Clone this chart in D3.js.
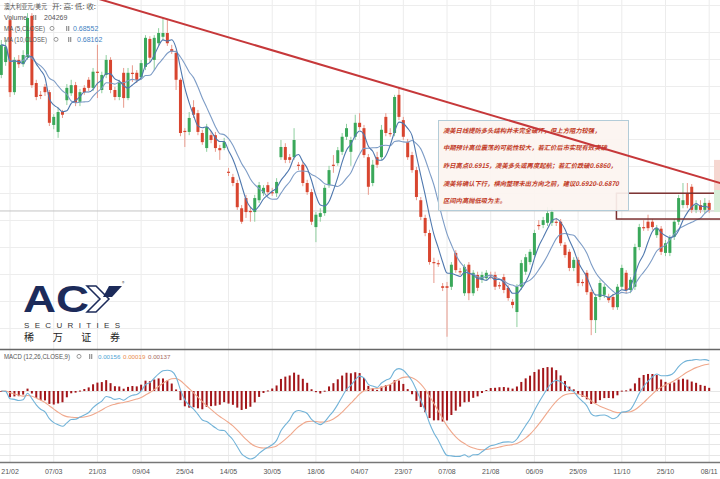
<!DOCTYPE html>
<html>
<head>
<meta charset="utf-8">
<script src="https://cdn.jsdelivr.net/npm/d3@7"></script>
<style>
  body { margin: 0; background: #fff; }
  svg { display: block; }
</style>
</head>
<body>
<div id="chart"></div>
<script>
// ---- data (AUD/USD daily) ----
const dateLabels = ["21/02","07/03","21/03","09/04","25/04","14/05","30/05","18/06","04/07",
                    "23/07","07/08","21/08","06/09","25/09","11/10","25/10","08/11"];
const labelStart = 2, labelEvery = 10;

const opens = [.7170,.7194,.7272,.7138,.7198,.7190,.7203,.7280,.7155,.7133,
 .7148,.7138,.7077,.7064,.7101,.7123,.7136,.7151,.7120,.7146,
 .7161,.7146,.7176,.7142,.7170,.7198,.7142,.7129,.7174,.7127,
 .7174,.7174,.7166,.7185,.7237,.7198,.7229,.7241,.7248,.7218,
 .7211,.7161,.7066,.7064,.7110,.7099,.7062,.7034,.7058,.7058,
 .7034,.7034,.6990,.6980,.6969,.6922,.6941,.6917,.6915,.6937,
 .6950,.6965,.6952,.6950,.7017,.7036,.7017,.7017,.7003,.7003,
 .6969,.6952,.6887,.6906,.6913,.6965,.7003,.7006,.7027,.7055,
 .7027,.7055,.7081,.7071,.7017,.6969,.7017,.7017,.7092,.7062,
 .7062,.7133,.7086,.7045,.7021,.6993,.6937,.6904,.6876,.6822,
 .6820,.6777,.6777,.6776,.6839,.6805,.6764,.6817,.6764,.6798,
 .6789,.6792,.6798,.6798,.6779,.6794,.6774,.6748,.6729,.6776,
 .6804,.6822,.6835,.6891,.6891,.6895,.6895,.6897,.6897,.6854,
 .6841,.6811,.6826,.6785,.6802,.6766,.6714,.6757,.6761,.6757,
 .6757,.6738,.6776,.6802,.6770,.6776,.6850,.6887,.6897,.6897,
 .6872,.6884,.6839,.6839,.6869,.6897,.6928,.6950,.6962,.6919,
 .6928,.6919,.6932];

const closes = [.7226,.7222,.7138,.7198,.7190,.7207,.7276,.7151,.7129,.7131,
 .7138,.7081,.7092,.7101,.7096,.7146,.7151,.7118,.7138,.7138,
 .7146,.7176,.7174,.7170,.7198,.7142,.7129,.7155,.7127,.7174,
 .7172,.7161,.7192,.7239,.7202,.7239,.7248,.7248,.7229,.7213,
 .7161,.7062,.7064,.7090,.7096,.7064,.7045,.7073,.7049,.7034,
 .7030,.7045,.6988,.6969,.6924,.6897,.6915,.6915,.6941,.6965,
 .6960,.6952,.6950,.6971,.7036,.7012,.7012,.7049,.7001,.6969,
 .6952,.6897,.6910,.6913,.6960,.6993,.7001,.7030,.7055,.7071,
 .7049,.7081,.7073,.7021,.6962,.7003,.7003,.7068,.7062,.7060,
 .7129,.7092,.7055,.7017,.6993,.6943,.6906,.6876,.6822,.6820,
 .6818,.6774,.6774,.6817,.6807,.6804,.6813,.6764,.6802,.6774,
 .6798,.6802,.6796,.6776,.6777,.6770,.6755,.6742,.6776,.6820,
 .6831,.6841,.6876,.6889,.6900,.6913,.6915,.6895,.6857,.6835,
 .6811,.6826,.6783,.6783,.6766,.6714,.6757,.6783,.6776,.6751,
 .6738,.6776,.6811,.6770,.6789,.6850,.6887,.6885,.6885,.6887,
 .6885,.6841,.6857,.6867,.6897,.6941,.6937,.6928,.6919,.6928,
 .6919,.6932,.6919];

const highs = [.7235,.7235,.7278,.7203,.7207,.7216,.7285,.7285,.7161,.7140,
 .7153,.7142,.7097,.7109,.7105,.7153,.7161,.7157,.7144,.7151,
 .7166,.7183,.7226,.7176,.7207,.7203,.7148,.7161,.7183,.7183,
 .7188,.7179,.7198,.7244,.7242,.7244,.7257,.7276,.7272,.7226,
 .7216,.7164,.7071,.7101,.7123,.7105,.7068,.7079,.7066,.7064,
 .7040,.7053,.6997,.6986,.6975,.6928,.6947,.6924,.6947,.6971,
 .6965,.6971,.6960,.6978,.7049,.7043,.7023,.7071,.7008,.7008,
 .6975,.6958,.6915,.6922,.6965,.7001,.7021,.7036,.7062,.7079,
 .7055,.7096,.7099,.7077,.7023,.7012,.7027,.7077,.7099,.7071,
 .7133,.7146,.7092,.7051,.7027,.6999,.6943,.6910,.6882,.6830,
 .6826,.6783,.6785,.6822,.6844,.6811,.6818,.6822,.6807,.6804,
 .6804,.6807,.6804,.6804,.6785,.6800,.6779,.6753,.6781,.6826,
 .6837,.6846,.6882,.6900,.6906,.6924,.6922,.6904,.6902,.6859,
 .6846,.6831,.6831,.6790,.6807,.6772,.6763,.6789,.6781,.6763,
 .6763,.6781,.6817,.6807,.6794,.6856,.6893,.6900,.6910,.6902,
 .6891,.6889,.6863,.6872,.6902,.6947,.6969,.6969,.6967,.6937,
 .6937,.6941,.6937];

const lows = [.7164,.7187,.7129,.7133,.7183,.7185,.7198,.7146,.7123,.7125,
 .7131,.7075,.7069,.7053,.7090,.7114,.7131,.7112,.7112,.7133,
 .7140,.7140,.7127,.7136,.7164,.7136,.7123,.7123,.7109,.7123,
 .7157,.7155,.7161,.7179,.7194,.7179,.7224,.7235,.7224,.7209,
 .7142,.7056,.7036,.7058,.7090,.7058,.7040,.7027,.7043,.7027,
 .7012,.7030,.6982,.6963,.6919,.6893,.6904,.6897,.6897,.6932,
 .6945,.6947,.6945,.6943,.7012,.7006,.7006,.7012,.6993,.6963,
 .6947,.6891,.6859,.6897,.6908,.6960,.6988,.7001,.7021,.7049,
 .7001,.7049,.7068,.7016,.6947,.6963,.6997,.7012,.7056,.7055,
 .7056,.7086,.7049,.7012,.6988,.6937,.6900,.6870,.6817,.6783,
 .6813,.6768,.6683,.6770,.6802,.6798,.6759,.6751,.6759,.6768,
 .6783,.6787,.6790,.6770,.6772,.6764,.6750,.6736,.6701,.6770,
 .6798,.6817,.6830,.6882,.6885,.6889,.6889,.6889,.6852,.6830,
 .6805,.6805,.6777,.6777,.6761,.6686,.6690,.6751,.6755,.6746,
 .6733,.6733,.6770,.6764,.6764,.6770,.6844,.6880,.6880,.6882,
 .6867,.6835,.6833,.6833,.6863,.6891,.6922,.6922,.6913,.6913,
 .6913,.6913,.6913];

// trend line through two swing highs, the range box, the last-price line
const trendAnchors = [{i: 37, p: 0.7276}, {i: 91, p: 0.7146}];
const zoneStart = 141, zoneTop = 0.6950, zoneBottom = 0.6902;
const lastPrice = 0.6917;

const legendRows = [
  {name: "Volume", value: "204269"},
  {name: "MA (5,CLOSE)", value: "0.68552"},
  {name: "MA (10,CLOSE)", value: "0.68162"}
];
const macdLegend = ["0.00156", "0.00019", "0.00137"];

const noteLines = [
  "澳美日线提防多头结构并未完全破坏，但上方阻力较强，",
  "中期预计高位震荡的可能性较大，若汇价后市实现有效突破",
  "昨日高点0.6915，澳美多头或再度起航；若汇价跌破0.6860，",
  "澳美将确认下行，横向整理未出方向之前，建议0.6920-0.6870",
  "区间内高抛低吸为主。"
];

// ---- indicators from the closes ----
function sma(arr, n) {
  return arr.map((_, i) => d3.mean(arr.slice(Math.max(0, i - n + 1), i + 1)));
}
function ema(arr, n) {
  const k = 2 / (n + 1), out = [];
  arr.forEach((v, i) => out.push(i ? v * k + out[i - 1] * (1 - k) : v));
  return out;
}
const ma5 = sma(closes, 5);
const ma10 = sma(closes, 10);
const ema12 = ema(closes, 12), ema26 = ema(closes, 26);
const dif = ema12.map((v, i) => v - ema26[i]);
const dea = ema(dif, 9);
const hist = dif.map((v, i) => v - dea[i]);

// ---- layout ----
const width = 720, height = 479;
const price = {top: 0, bottom: 348};
const macd = {top: 350, bottom: 462};
const latin = "'Liberation Sans',Arial,sans-serif";

const svg = d3.select("#chart").append("svg")
  .attr("width", width).attr("height", height)
  .style("font-family", "'Noto Sans CJK SC','Noto Sans',sans-serif");

const n = closes.length;
const x = d3.scaleLinear().domain([0, n - 1]).range([1.3, 709.2]);
const y = d3.scaleLinear().domain([0.66621, 0.73094]).range([price.bottom, price.top]);
const yM = d3.scaleLinear().domain([d3.min(dif), 0]).range([459, 391]);

svg.append("clipPath").attr("id", "clipPrice")
  .append("rect").attr("x", 0).attr("y", price.top).attr("width", width).attr("height", price.bottom - price.top);
svg.append("clipPath").attr("id", "clipMacd")
  .append("rect").attr("x", 0).attr("y", macd.top).attr("width", width).attr("height", macd.bottom - macd.top);

// grid
const tickIdx = dateLabels.map((d, k) => labelStart + k * labelEvery);
svg.append("g").selectAll("line").data(tickIdx).join("line")
  .attr("x1", d => x(d)).attr("x2", d => x(d))
  .attr("y1", 0).attr("y2", macd.bottom)
  .attr("stroke", "#ececec").attr("stroke-width", 1);

svg.append("g").selectAll("line").data(d3.range(0.670, 0.731, 0.005)).join("line")
  .attr("x1", 0).attr("x2", width)
  .attr("y1", d => Math.round(y(d)) + 0.5).attr("y2", d => Math.round(y(d)) + 0.5)
  .attr("stroke", "#ededed");

svg.append("line")
  .attr("x1", 0).attr("x2", width)
  .attr("y1", y(lastPrice)).attr("y2", y(lastPrice))
  .attr("stroke", "#c4c4c4").attr("stroke-width", 1);

svg.append("g").selectAll("line").data(yM.ticks(5)).join("line")
  .attr("x1", 0).attr("x2", width)
  .attr("y1", d => Math.round(yM(d)) + 0.5).attr("y2", d => Math.round(yM(d)) + 0.5)
  .attr("stroke", "#e6e6e6");

// logo
const logo = svg.append("g");
logo.append("text")
  .attr("x", 23).attr("y", 312)
  .attr("font-family", latin)
  .attr("font-weight", 700).attr("font-size", 36)
  .attr("textLength", 66).attr("lengthAdjust", "spacingAndGlyphs")
  .attr("fill", "#1c2b5a").text("AC");
logo.append("path")
  .attr("d", "M87,286 L96,286 L109,299 L96,312 L87,312 L100,299 Z")
  .attr("fill", "#fff").attr("stroke", "#1c2b5a").attr("stroke-width", 1.5);
logo.append("path")
  .attr("d", "M109,286 L122,286 L112,297 L103,297 Z")
  .attr("fill", "#1c2b5a");
logo.append("text").attr("x", 122).attr("y", 285).attr("font-size", 5).attr("fill", "#555").text("®");
logo.append("text")
  .attr("x", 24).attr("y", 328)
  .attr("font-family", latin)
  .attr("font-size", 8).attr("fill", "#333")
  .attr("textLength", 96).attr("lengthAdjust", "spacing")
  .text("SECURITIES");
logo.append("text")
  .attr("x", 24).attr("y", 341)
  .attr("font-size", 10).attr("fill", "#222")
  .attr("textLength", 96).attr("lengthAdjust", "spacing")
  .text("稀万证券");

// candles
const up = "#3aa85a", down = "#d8452f";
const candles = svg.append("g").attr("clip-path", "url(#clipPrice)")
  .selectAll("g").data(d3.range(n)).join("g");
candles.append("line")
  .attr("x1", i => x(i)).attr("x2", i => x(i))
  .attr("y1", i => y(highs[i])).attr("y2", i => y(lows[i]))
  .attr("stroke", i => closes[i] >= opens[i] ? "#8fcf9f" : "#e89a8c")
  .attr("stroke-width", 1);
candles.append("rect")
  .attr("x", i => x(i) - 1.5).attr("width", 3)
  .attr("y", i => y(Math.max(opens[i], closes[i])))
  .attr("height", i => Math.max(1.2, Math.abs(y(opens[i]) - y(closes[i]))))
  .attr("fill", i => closes[i] >= opens[i] ? up : down);

// moving averages
const maLine = d3.line().x((d, i) => x(i)).y(d => y(d)).curve(d3.curveMonotoneX);
svg.append("path").datum(ma10).attr("d", maLine)
  .attr("fill", "none").attr("stroke", "#7d9cc6").attr("stroke-width", 1.1);
svg.append("path").datum(ma5).attr("d", maLine)
  .attr("fill", "none").attr("stroke", "#4f78ae").attr("stroke-width", 1.1);

// range box
svg.append("rect")
  .attr("x", x(zoneStart) - 1).attr("width", width - x(zoneStart) + 5)
  .attr("y", y(zoneTop)).attr("height", y(zoneBottom) - y(zoneTop))
  .attr("fill", "none").attr("stroke", "#7b3030").attr("stroke-width", 1.5);

// last price tag (cut off at the right edge)
svg.append("rect").attr("x", 714).attr("width", 8)
  .attr("y", y(0.7012)).attr("height", y(0.6956) - y(0.7012)).attr("fill", "#f6d6d0");
svg.append("rect").attr("x", 714).attr("width", 8)
  .attr("y", y(0.6956)).attr("height", y(0.6915) - y(0.6956)).attr("fill", "#d8eed8");

// commentary box
const note = svg.append("g");
note.append("rect")
  .attr("x", 438.5).attr("y", 120.5).attr("width", 190).attr("height", 90)
  .attr("fill", "#fcf4f0").attr("fill-opacity", 0.92)
  .attr("stroke", "#b3ccd8").attr("stroke-width", 1);
note.selectAll("text").data(noteLines).join("text")
  .attr("x", 443).attr("y", (d, k) => 132.5 + k * 17.7)
  .attr("font-size", 6.3).attr("font-weight", 700).attr("font-style", "italic")
  .attr("fill", "#c13a26").text(d => d);

// trend line
const slope = (trendAnchors[1].p - trendAnchors[0].p) / (trendAnchors[1].i - trendAnchors[0].i);
const trendAt = i => trendAnchors[0].p + (i - trendAnchors[0].i) * slope;
svg.append("line").attr("clip-path", "url(#clipPrice)")
  .attr("x1", x(-5)).attr("y1", y(trendAt(-5)))
  .attr("x2", x(n + 5)).attr("y2", y(trendAt(n + 5)))
  .attr("stroke", "#c6383a").attr("stroke-width", 2);

// MACD panel
const mGroup = svg.append("g").attr("clip-path", "url(#clipMacd)");
mGroup.selectAll("rect").data(hist).join("rect")
  .attr("x", (d, i) => x(i) - 1).attr("width", 2)
  .attr("y", d => Math.min(yM(d), yM(0)))
  .attr("height", d => Math.max(1, Math.abs(yM(d) - yM(0))))
  .attr("fill", "#a3161a");
const mLine = d3.line().x((d, i) => x(i)).y(d => yM(d)).curve(d3.curveMonotoneX);
mGroup.append("path").datum(dea).attr("d", mLine)
  .attr("fill", "none").attr("stroke", "#f0a88c").attr("stroke-width", 1.1);
mGroup.append("path").datum(dif).attr("d", mLine)
  .attr("fill", "none").attr("stroke", "#72b3d8").attr("stroke-width", 1.1);

svg.append("line").attr("x1", 0).attr("x2", width).attr("y1", 349.5).attr("y2", 349.5)
  .attr("stroke", "#666").attr("stroke-width", 1.5);
svg.append("line").attr("x1", 0).attr("x2", width).attr("y1", 462.5).attr("y2", 462.5)
  .attr("stroke", "#777").attr("stroke-width", 1.5);

// x labels
svg.append("g").selectAll("text").data(dateLabels).join("text")
  .attr("x", (d, k) => x(tickIdx[k])).attr("y", 474)
  .attr("text-anchor", "middle").attr("font-size", 7).attr("fill", "#555")
  .attr("font-family", latin)
  .text(d => d);

// legends
function bars(g, xb, yb) {
  g.append("rect").attr("x", xb).attr("y", yb - 5).attr("width", 1.3).attr("height", 5).attr("fill", "#999");
  g.append("rect").attr("x", xb + 2).attr("y", yb - 5).attr("width", 1.3).attr("height", 5).attr("fill", "#999");
}
function gear(g, xg, yb) {
  g.append("circle").attr("cx", xg).attr("cy", yb - 2.6).attr("r", 2)
    .attr("fill", "none").attr("stroke", "#999").attr("stroke-width", 1);
}
const leg = svg.append("g").attr("font-size", 7).attr("fill", "#555");
leg.append("text").attr("x", 4).attr("y", 9).attr("font-size", 6.5)
  .attr("textLength", 43).attr("lengthAdjust", "spacingAndGlyphs").text("澳大利亚元/美元");
leg.append("text").attr("x", 52).attr("y", 9).attr("font-size", 6.5)
  .attr("textLength", 44).attr("lengthAdjust", "spacingAndGlyphs").text("开: 高: 低: 收:");
const rowY = [20, 31, 42];
const nameW = [23, 41, 43];
const gearX = [null, 52, 56];
const barX = [33, 66, 68];
const valX = [44, 73, 77];
legendRows.forEach((r, k) => {
  leg.append("text").attr("x", 4).attr("y", rowY[k]).attr("font-family", latin)
    .attr("textLength", nameW[k]).attr("lengthAdjust", "spacingAndGlyphs").text(r.name);
  if (gearX[k]) gear(leg, gearX[k], rowY[k]);
  bars(leg, barX[k], rowY[k]);
  leg.append("text").attr("x", valX[k]).attr("y", rowY[k]).attr("font-family", latin)
    .attr("fill", k === 0 ? "#555" : "#3f7fc2").text(r.value);
});

const mleg = svg.append("g").attr("font-size", 7).attr("fill", "#555").attr("font-family", latin);
mleg.append("text").attr("x", 4).attr("y", 359)
  .attr("textLength", 66).attr("lengthAdjust", "spacingAndGlyphs").text("MACD (12,26,CLOSE,9)");
gear(mleg, 79, 359);
bars(mleg, 89, 359);
const mColors = ["#4ea3d3", "#e98c4c", "#a86a62"];
macdLegend.forEach((v, k) => {
  mleg.append("text").attr("x", 98 + k * 25).attr("y", 359).attr("font-size", 6.2)
    .attr("fill", mColors[k]).text(v);
});
</script>
</body>
</html>
